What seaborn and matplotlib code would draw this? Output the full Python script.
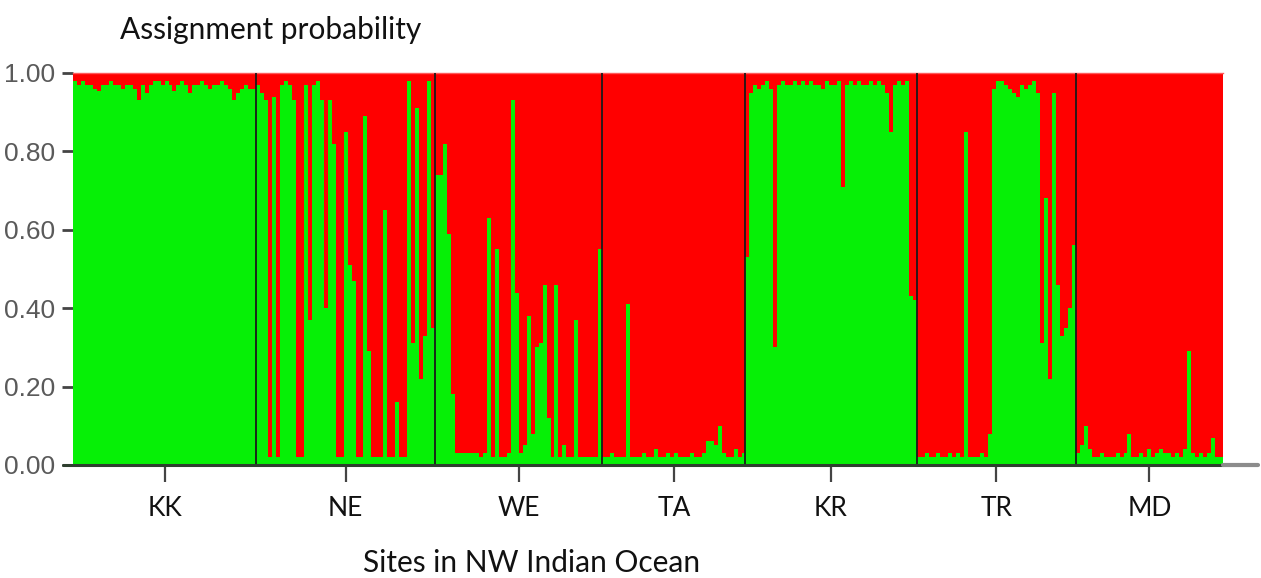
import numpy as np
import pandas as pd
import matplotlib
matplotlib.use("Agg")
import matplotlib.pyplot as plt
import seaborn as sns

# ---- data: proportion of membership in the "green" cluster per individual ----
sites = ["KK", "NE", "WE", "TA", "KR", "TR", "MD"]

kk_green = [0.98, 0.97, 0.98, 0.97, 0.97, 0.96, 0.955, 0.97, 0.97, 0.98,
            0.97, 0.97, 0.96, 0.97, 0.97, 0.96, 0.93, 0.97, 0.95, 0.97,
            0.98, 0.98, 0.97, 0.98, 0.97, 0.955, 0.97, 0.98, 0.97, 0.95,
            0.97, 0.97, 0.98, 0.97, 0.96, 0.97, 0.97, 0.98, 0.97, 0.96,
            0.93, 0.95, 0.96, 0.97, 0.96, 0.96]
ne_green = [0.97, 0.95, 0.93, 0.02, 0.94, 0.02, 0.97, 0.98, 0.97, 0.93,
            0.02, 0.02, 0.97, 0.37, 0.97, 0.98, 0.93, 0.40, 0.93, 0.82,
            0.02, 0.02, 0.85, 0.51, 0.47, 0.02, 0.02, 0.89, 0.29, 0.02,
            0.02, 0.02, 0.65, 0.02, 0.02, 0.16, 0.02, 0.02, 0.98, 0.31,
            0.91, 0.22, 0.33, 0.98, 0.35]
we_green = [0.74, 0.74, 0.82, 0.59, 0.18, 0.03, 0.03, 0.03, 0.03, 0.03,
            0.03, 0.02, 0.03, 0.63, 0.02, 0.55, 0.02, 0.02, 0.03, 0.93,
            0.44, 0.03, 0.05, 0.38, 0.08, 0.30, 0.31, 0.46, 0.12, 0.02,
            0.46, 0.02, 0.05, 0.02, 0.02, 0.37, 0.02, 0.02, 0.02, 0.02,
            0.02, 0.55]
ta_green = [0.02, 0.02, 0.03, 0.02, 0.02, 0.02, 0.41, 0.02, 0.02, 0.02,
            0.03, 0.02, 0.02, 0.04, 0.02, 0.02, 0.03, 0.02, 0.03, 0.02,
            0.02, 0.02, 0.03, 0.02, 0.02, 0.03, 0.06, 0.06, 0.05, 0.10,
            0.03, 0.02, 0.02, 0.04, 0.02, 0.03]
kr_green = [0.53, 0.95, 0.97, 0.96, 0.97, 0.98, 0.96, 0.30, 0.97, 0.98,
            0.97, 0.97, 0.98, 0.97, 0.98, 0.97, 0.98, 0.97, 0.97, 0.96,
            0.98, 0.97, 0.97, 0.98, 0.71, 0.97, 0.98, 0.97, 0.98, 0.97,
            0.97, 0.98, 0.97, 0.98, 0.97, 0.95, 0.85, 0.97, 0.98, 0.97,
            0.98, 0.43, 0.42]
tr_green = [0.02, 0.02, 0.03, 0.02, 0.02, 0.03, 0.02, 0.02, 0.03, 0.02,
            0.03, 0.02, 0.85, 0.02, 0.02, 0.02, 0.03, 0.02, 0.08, 0.96,
            0.98, 0.98, 0.97, 0.96, 0.95, 0.94, 0.97, 0.96, 0.97, 0.98,
            0.95, 0.31, 0.68, 0.22, 0.95, 0.46, 0.33, 0.35, 0.40, 0.56]
md_green = [0.03, 0.05, 0.10, 0.04, 0.02, 0.02, 0.03, 0.02, 0.02, 0.02,
            0.03, 0.02, 0.03, 0.08, 0.02, 0.02, 0.03, 0.02, 0.04, 0.02,
            0.03, 0.04, 0.03, 0.03, 0.02, 0.03, 0.02, 0.04, 0.29, 0.03,
            0.02, 0.03, 0.02, 0.03, 0.07, 0.02, 0.02]

yticks = [0.0, 0.2, 0.4, 0.6, 0.8, 1.0]
ytick_labels = ["0.00", "0.20", "0.40", "0.60", "0.80", "1.00"]

green_by_site = [kk_green, ne_green, we_green, ta_green, kr_green, tr_green, md_green]

rows = []
for site, vals in zip(sites, green_by_site):
    for v in vals:
        rows.append((site, v))
df = pd.DataFrame(rows, columns=["site", "green"])
df["ind"] = np.arange(len(df))
df["red"] = 1.0 - df["green"]
df["total"] = df["green"] + df["red"]

counts = np.array([len(v) for v in green_by_site])
starts = np.concatenate([[0], np.cumsum(counts)[:-1]])
centers = starts + (counts - 1) / 2.0
bounds = np.cumsum(counts)[:-1] - 0.5

RED = "#ff0000"
GREEN = "#06f006"

sns.set_theme(style="white")
plt.rcParams["font.family"] = ["Lato", "DejaVu Sans"]

W, H = 1261, 578
fig = plt.figure(figsize=(W / 100, H / 100), dpi=100)
ax = fig.add_axes([73 / W, 1 - 465 / H, 1150 / W, 392 / H])

sns.barplot(data=df, x="ind", y="total", color=RED, width=1.0, linewidth=0,
            saturation=1, errorbar=None, ax=ax, antialiased=False)
sns.barplot(data=df, x="ind", y="green", color=GREEN, width=1.0, linewidth=0,
            saturation=1, errorbar=None, ax=ax, antialiased=False)

ax.set_xlim(-0.5, len(df) - 0.5)
ax.set_ylim(0, 1)

for b in bounds:
    ax.axvline(b, color="#1a1a1a", lw=1.3, zorder=5)

ax.set_xticks(centers)
ax.set_xticklabels(sites, fontsize=19, color="#111111")
ax.set_yticks(yticks)
ax.set_yticklabels(ytick_labels, fontsize=19, color="#5a5a5a",
                   family=["Liberation Sans Narrow", "Liberation Sans", "DejaVu Sans"])
ax.tick_params(axis="x", bottom=True, direction="out", length=12, width=1.6,
               color="#444444", pad=10)
ax.tick_params(axis="y", left=True, direction="out", length=8, width=2,
               color="#444444", pad=5)
ax.set_xlabel("")
ax.set_ylabel("")

for s in ["left", "right", "bottom"]:
    ax.spines[s].set_visible(False)
ax.spines["top"].set_color("#ff5a5a")
ax.spines["top"].set_linewidth(1.0)

# bottom axis line (extends a bit beyond the plotting area as in the original)
ax.plot([-10 / 1150, 1.0], [0, 0], transform=ax.transAxes, clip_on=False,
        color="#2f3f2f", lw=2.2, zorder=6)
ax.plot([1.0, 1185 / 1150], [0, 0], transform=ax.transAxes,
        clip_on=False, color="#8c8c8c", lw=3.0, zorder=6)

fig.text(120 / W, 1 - 39 / H, "Assignment probability", fontsize=21.5,
         ha="left", va="baseline", color="#111111")
fig.text(532 / W, 1 - 572 / H, "Sites in NW Indian Ocean", fontsize=21.5,
         ha="center", va="baseline", color="#111111")

fig.savefig("out.png", dpi=100, facecolor="white")
